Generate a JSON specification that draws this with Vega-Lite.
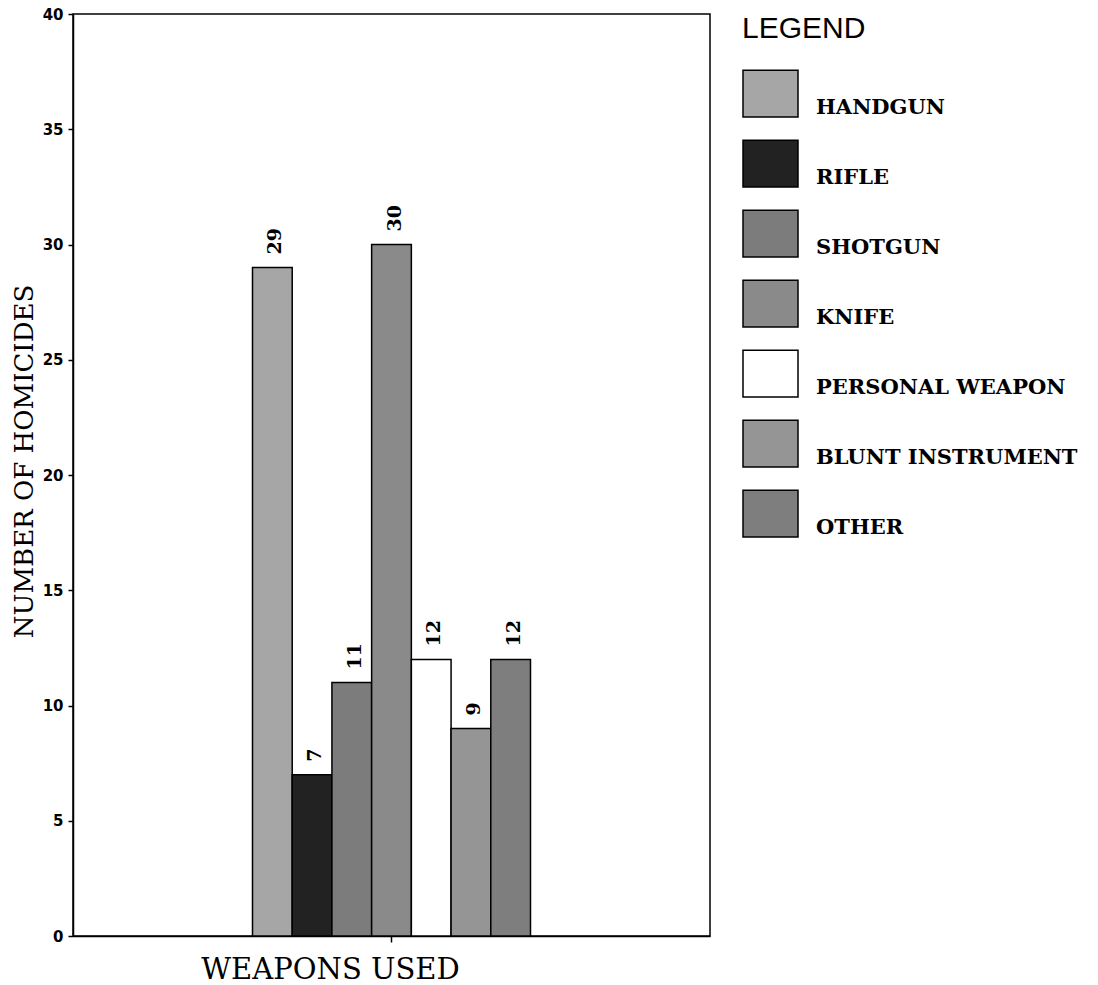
{
  "$schema": "https://vega.github.io/schema/vega-lite/v6.json",
  "width": 637,
  "height": 922,
  "autosize": "none",
  "padding": {"left": 73, "top": 14, "right": 388, "bottom": 49},
  "background": "white",
  "data": {
    "values": [
      {"group": "WEAPONS USED", "weapon": "HANDGUN", "n": 29},
      {"group": "WEAPONS USED", "weapon": "RIFLE", "n": 7},
      {"group": "WEAPONS USED", "weapon": "SHOTGUN", "n": 11},
      {"group": "WEAPONS USED", "weapon": "KNIFE", "n": 30},
      {"group": "WEAPONS USED", "weapon": "PERSONAL WEAPON", "n": 12},
      {"group": "WEAPONS USED", "weapon": "BLUNT INSTRUMENT", "n": 9},
      {"group": "WEAPONS USED", "weapon": "OTHER", "n": 12}
    ]
  },
  "config": {
    "view": {"stroke": "black", "strokeWidth": 1.5},
    "font": "DejaVu Serif"
  },
  "encoding": {
    "x": {
      "field": "group", "type": "nominal",
      "scale": {"paddingInner": 0, "paddingOuter": 0.6457},
      "axis": {
        "title": "WEAPONS USED", "labels": false, "tickSize": 6, "tickColor": "black", "tickWidth": 1.5,
        "domainColor": "black", "domainWidth": 1.5, "grid": false,
        "titleFont": "DejaVu Serif", "titleFontSize": 29, "titleFontWeight": "normal", "titleColor": "black",
        "titleX": 257, "titleY": 42, "titleAlign": "center", "titleBaseline": "alphabetic"
      }
    },
    "xOffset": {
      "field": "weapon", "type": "nominal",
      "sort": ["HANDGUN", "RIFLE", "SHOTGUN", "KNIFE", "PERSONAL WEAPON", "BLUNT INSTRUMENT", "OTHER"],
      "scale": {"paddingInner": 0, "paddingOuter": 0}
    },
    "y": {
      "field": "n", "type": "quantitative",
      "scale": {"domain": [0, 40]},
      "axis": {
        "title": "NUMBER OF HOMICIDES", "values": [0, 5, 10, 15, 20, 25, 30, 35, 40],
        "tickSize": 5, "tickColor": "black", "tickWidth": 1.5, "labelPadding": 5,
        "labelFont": "DejaVu Sans", "labelFontSize": 15, "labelFontWeight": "bold", "labelColor": "black",
        "domainColor": "black", "domainWidth": 1.5, "grid": false,
        "titleFont": "DejaVu Serif", "titleFontSize": 26, "titleFontWeight": "normal", "titleColor": "black",
        "titleX": -41, "titleY": 447, "titleAlign": "center", "titleBaseline": "alphabetic", "titleAngle": 270
      }
    }
  },
  "layer": [
    {
      "mark": {"type": "bar", "stroke": "black", "strokeWidth": 1.5},
      "encoding": {
        "fill": {
          "field": "weapon", "type": "nominal",
          "scale": {
            "domain": ["HANDGUN", "RIFLE", "SHOTGUN", "KNIFE", "PERSONAL WEAPON", "BLUNT INSTRUMENT", "OTHER"],
            "range": ["#a6a6a6", "#222222", "#7c7c7c", "#8a8a8a", "#ffffff", "#959595", "#7e7e7e"]
          },
          "legend": {
            "title": "LEGEND", "orient": "right", "offset": 32,
            "titleFont": "Liberation Sans", "titleFontSize": 30, "titleFontWeight": "normal", "titleColor": "black",
            "titlePadding": 21,
            "labelFont": "DejaVu Serif", "labelFontSize": 21, "labelFontWeight": "bold", "labelColor": "black", "labelOffset": 17, "labelLimit": 400,
            "symbolType": "M-1,-0.85H1V0.85H-1Z", "symbolSize": 3025,
            "symbolStrokeColor": "black", "symbolStrokeWidth": 1.5, "symbolOpacity": 1,
            "rowPadding": 15,
            "encode": {"labels": {"update": {"dy": {"value": 14}}}}
          }
        }
      }
    },
    {
      "mark": {"type": "text", "angle": 270, "align": "left", "baseline": "middle", "dx": 13, "dy": 3, "font": "DejaVu Serif", "fontWeight": "bold", "fontSize": 19, "color": "black"},
      "encoding": {
        "text": {"field": "n", "type": "quantitative"}
      }
    }
  ]
}
